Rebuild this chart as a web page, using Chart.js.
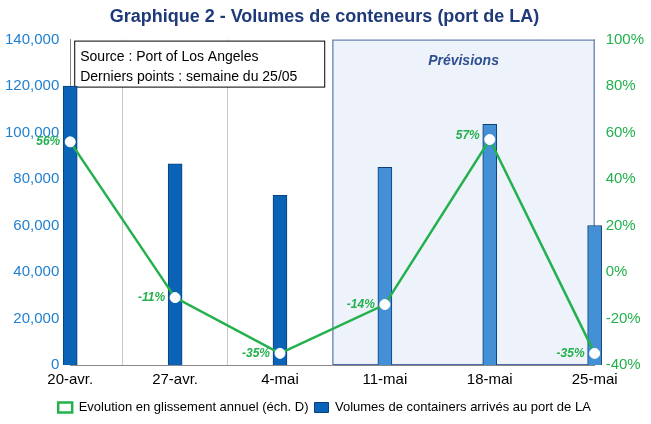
<!DOCTYPE html><html><head><script src="https://cdn.jsdelivr.net/npm/chart.js@4"></script>
<style>body{margin:0;background:#fff}</style></head><body><canvas id="c" width="651" height="424"></canvas>
<script>
const categories=['20-avr.','27-avr.','4-mai','11-mai','18-mai','25-mai'];
const volumes=[120000,86500,73000,85000,103500,60000];
const evolution=[56,-11,-35,-14,57,-35];
const labelsPct=['56%','-11%','-35%','-14%','57%','-35%'];
const barColors=['#0b63b8','#0b63b8','#0b63b8','#4490d6','#4490d6','#4490d6'];
const plug={id:'p',
beforeDatasetsDraw(c){const {ctx,chartArea:a,scales:{x}}=c;const x0=x.getPixelForValue(2.5);
ctx.save();ctx.fillStyle='#eef2fa';ctx.fillRect(x0,a.top,a.right-x0,a.bottom-a.top);
ctx.strokeStyle='#4a6aa8';ctx.lineWidth=1;ctx.strokeRect(x0+0.5,a.top+0.5,a.right-x0-1,a.bottom-a.top-1);
ctx.fillStyle='#2f4f8f';ctx.font='italic bold 14px Arial';ctx.textAlign='center';ctx.fillText('Prévisions',(x0+a.right)/2,a.top+22);
ctx.fillStyle='#fff';ctx.fillRect(a.left+4,a.top+1,250,46);ctx.strokeStyle='#000';ctx.strokeRect(a.left+4.5,a.top+1.5,250,46);
ctx.fillStyle='#000';ctx.font='14px Arial';ctx.textAlign='left';ctx.fillText('Source : Port of Los Angeles',a.left+10,a.top+18);ctx.fillText('Derniers points : semaine du 25/05',a.left+10,a.top+38);ctx.restore();},
afterDatasetsDraw(c){const {ctx}=c;const m=c.getDatasetMeta(1);ctx.save();ctx.fillStyle='#22b14c';ctx.font='italic bold 12px Arial';ctx.textAlign='right';ctx.textBaseline='middle';
m.data.forEach((p,i)=>ctx.fillText(labelsPct[i],p.x-10,p.y-(i==4?4:0)));ctx.restore();}};
new Chart(document.getElementById('c'),{data:{labels:categories,datasets:[
{type:'bar',label:'Volumes de containers arrivés au port de LA',data:volumes,backgroundColor:barColors,borderColor:'#08407a',borderWidth:1,barThickness:14,yAxisID:'y',clip:false,order:2},
{type:'line',label:'Evolution en glissement annuel (éch. D)',data:evolution,borderColor:'#22b14c',backgroundColor:'#fff',borderWidth:2.5,pointBackgroundColor:'#fff',pointBorderColor:'#fff',pointBorderWidth:1,pointRadius:5,yAxisID:'y1',clip:false,order:1}]},
options:{responsive:false,animation:false,layout:{padding:{left:2,right:4}},
plugins:{title:{display:true,text:'Graphique 2 - Volumes de conteneurs (port de LA)',color:'#1f3a7a',font:{family:'Arial',size:18,weight:'bold'},padding:{top:6,bottom:12}},
legend:{position:'bottom',labels:{color:'#000',font:{family:'Arial',size:13},boxWidth:14,boxHeight:10,padding:6}},tooltip:{enabled:false}},
scales:{x:{offset:false,grid:{color:'#c8c8c8',drawTicks:false},border:{color:'#888'},ticks:{color:'#000',font:{family:'Arial',size:15},padding:6,maxRotation:0}},
y:{position:'left',min:0,max:140000,ticks:{stepSize:20000,color:'#1f7fd0',font:{family:'Arial',size:15}},grid:{display:false},border:{color:'#888'}},
y1:{position:'right',min:-40,max:100,ticks:{stepSize:20,color:'#22b14c',font:{family:'Arial',size:15},callback:v=>v+'%'},grid:{display:false},border:{color:'#888'}}}},
plugins:[plug]});
</script></body></html>
